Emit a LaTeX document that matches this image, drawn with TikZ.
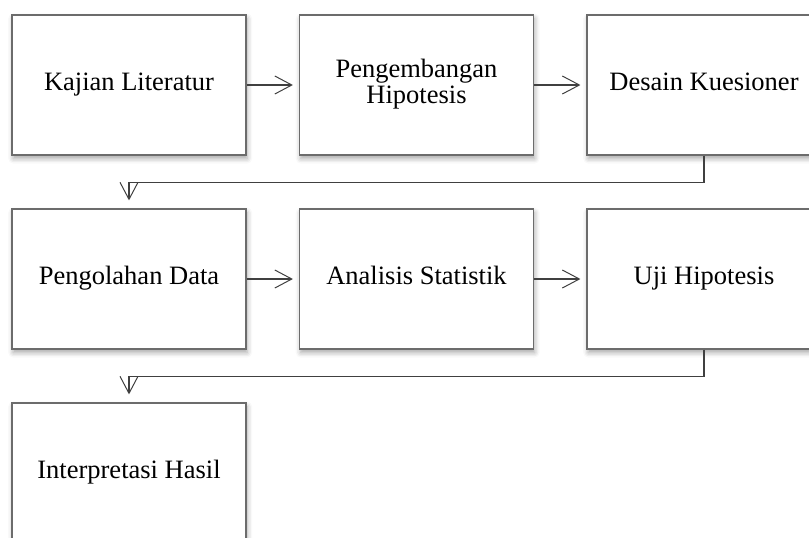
\documentclass[tikz,border=0pt]{standalone}
\usepackage{fontspec}
\setmainfont{Liberation Serif}
\usetikzlibrary{arrows.meta,shadows.blur}

\begin{document}
\begin{tikzpicture}[x=.5pt,y=-.5pt,
  box/.style={draw=gray!85!black,line width=.6pt,fill=white,minimum width=117pt,minimum height=70pt,
    align=center,font=\fontsize{13.25}{13}\selectfont,
    execute at begin node=\strut,execute at end node=\strut,
    blur shadow={shadow xshift=.6pt,shadow yshift=-1.8pt,shadow blur radius=2.5pt,shadow opacity=35}},
  conn/.style={draw=black!75,line width=.6pt,-{Straight Barb[length=8.5pt,width=9pt,line width=.5pt]}}]
  \clip (0,0) rectangle (809,537);
  \node[box] (kajian) at (129,85) {Kajian Literatur};
  \node[box] (hipo) at (416.5,85) {Pengembangan\\Hipotesis};
  \node[box] (desain) at (704,85) {Desain Kuesioner};
  \node[box] (olah) at (129,279) {Pengolahan Data};
  \node[box] (stat) at (416.5,279) {Analisis Statistik};
  \node[box] (uji) at (704,279) {Uji Hipotesis};
  \node[box] (interp) at (129,473) {Interpretasi Hasil};
  \draw[conn,shorten >=3pt] (kajian) -- (hipo); \draw[conn,shorten >=3pt] (hipo) -- (desain);
  \draw[conn,shorten >=3pt] (olah) -- (stat); \draw[conn,shorten >=3pt] (stat) -- (uji);
  \draw[conn,shorten >=4pt] (desain.south) -- ++(0,27) -| (olah.north);
  \draw[conn,shorten >=4pt] (uji.south) -- ++(0,27) -| (interp.north);
\end{tikzpicture}
\end{document}
